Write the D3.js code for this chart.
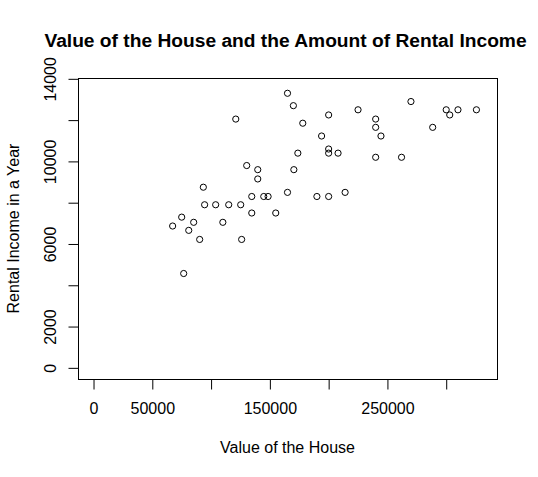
<!DOCTYPE html>
<html lang="en">
<head>
  <meta charset="UTF-8">
  <title>Value of the House and the Amount of Rental Income</title>
  <style>
    body { margin: 0; background: #fff; }
    text { font-family: "Liberation Sans", Arial, sans-serif; fill: #000; }
  </style>
</head>
<body>
    <script src="https://cdn.jsdelivr.net/npm/d3@7/dist/d3.min.js"></script>
    <script>
      // house values and yearly rental income
      const houseValue = [
        165000, 170000, 121000, 178000, 173800, 130300, 139700, 170400,
        139700, 93400, 165000, 134600, 144800, 148500, 94500, 103900,
        115000, 125200, 134600, 155000, 75000, 67300, 85200, 110000,
        81000, 90300, 126000, 76700, 200000, 225000, 270000, 240000,
        240000, 300000, 303000, 310000, 325700, 288500, 194000, 244500,
        200000, 200000, 208000, 240000, 262000, 190000, 200000, 214000
      ]
      const rentalIncome = [
        13300, 12700, 12050, 11850, 10400, 9800, 9600, 9600,
        9150, 8750, 8500, 8300, 8300, 8300, 7900, 7900,
        7900, 7900, 7500, 7500, 7300, 6870, 7050, 7050,
        6660, 6220, 6220, 4570, 12250, 12500, 12900, 12050,
        11650, 12500, 12250, 12500, 12500, 11650, 11230, 11230,
        10600, 10400, 10400, 10200, 10200, 8300, 8300, 8500
      ]
      const xTicks = [0, 50000, 100000, 150000, 200000, 250000, 300000]
      const xLabels = ["0", "50000", "", "150000", "", "250000", ""]
      const yTicks = [0, 2000, 4000, 6000, 8000, 10000, 12000, 14000]
      const yLabels = ["0", "2000", "", "6000", "", "10000", "", "14000"]

      const width = 538,
        height = 477
      const plotL = 78, plotR = 497, plotT = 78, plotB = 379

      const svg = d3.select("body")
      .append("svg")
      .attr("width", width)
      .attr("height", height)

      // R pads the limits by 4% on each side
      const xlim = [0, 330000], ylim = [0, 13500]
      const xpad = (xlim[1] - xlim[0]) * 0.04
      const ypad = (ylim[1] - ylim[0]) * 0.04

      const x = d3.scaleLinear()
        .domain([xlim[0] - xpad, xlim[1] + xpad])
        .range([plotL, plotR])
      const y = d3.scaleLinear()
        .domain([ylim[0] - ypad, ylim[1] + ypad])
        .range([plotB, plotT])

      const points = houseValue.map((v, i) => ({ v: v, r: rentalIncome[i] }))

      // box
      svg.append("rect")
        .attr("x", plotL + 0.5)
        .attr("y", plotT + 0.5)
        .attr("width", plotR - plotL)
        .attr("height", plotB - plotT)
        .attr("fill", "none")
        .attr("stroke", "#000")

      const xAxis = svg.append("g")
        .attr("transform", "translate(0," + (plotB + 0.5) + ")")
        .call(d3.axisBottom(x)
          .tickValues(xTicks)
          .tickFormat((d, i) => xLabels[i])
          .tickSize(10)
          .tickSizeOuter(0))
      xAxis.select(".domain").remove()
      xAxis.selectAll(".tick line").attr("stroke", "#000")
      xAxis.selectAll(".tick text")
        .attr("dy", null)
        .attr("y", 34.5)
        .style("font-size", "16px")

      const yAxis = svg.append("g")
        .attr("transform", "translate(" + (plotL + 0.5) + ",0)")
        .call(d3.axisLeft(y)
          .tickValues(yTicks)
          .tickFormat((d, i) => yLabels[i])
          .tickSize(10)
          .tickSizeOuter(0))
      yAxis.select(".domain").remove()
      yAxis.selectAll(".tick line").attr("stroke", "#000")
      yAxis.selectAll(".tick text")
        .attr("transform", "rotate(-90)")
        .attr("x", 0)
        .attr("dy", null)
        .attr("y", -23)
        .attr("text-anchor", "middle")
        .style("font-size", "16px")

      svg.append("g")
      .selectAll("circle")
      .data(points)
      .enter()
      .append("circle")
      .attr("cx", d => x(d.v))
      .attr("cy", d => y(d.r))
      .attr("r", 3.1)
      .attr("fill", "none")
      .attr("stroke", "#000")
      .attr("stroke-width", 1)

      const midX = (plotL + plotR) / 2
      svg.append("text")
        .attr("x", 285.5)
        .attr("y", 46.5)
        .attr("text-anchor", "middle")
        .style("font-size", "19.2px")
        .style("font-weight", "bold")
        .text("Value of the House and the Amount of Rental Income")

      svg.append("text")
        .attr("x", midX)
        .attr("y", 453)
        .attr("text-anchor", "middle")
        .style("font-size", "16px")
        .text("Value of the House")

      svg.append("text")
        .attr("transform", "translate(19," + (plotT + plotB) / 2 + ") rotate(-90)")
        .attr("text-anchor", "middle")
        .style("font-size", "16px")
        .text("Rental Income in a Year")
    </script>
</body>
</html>
